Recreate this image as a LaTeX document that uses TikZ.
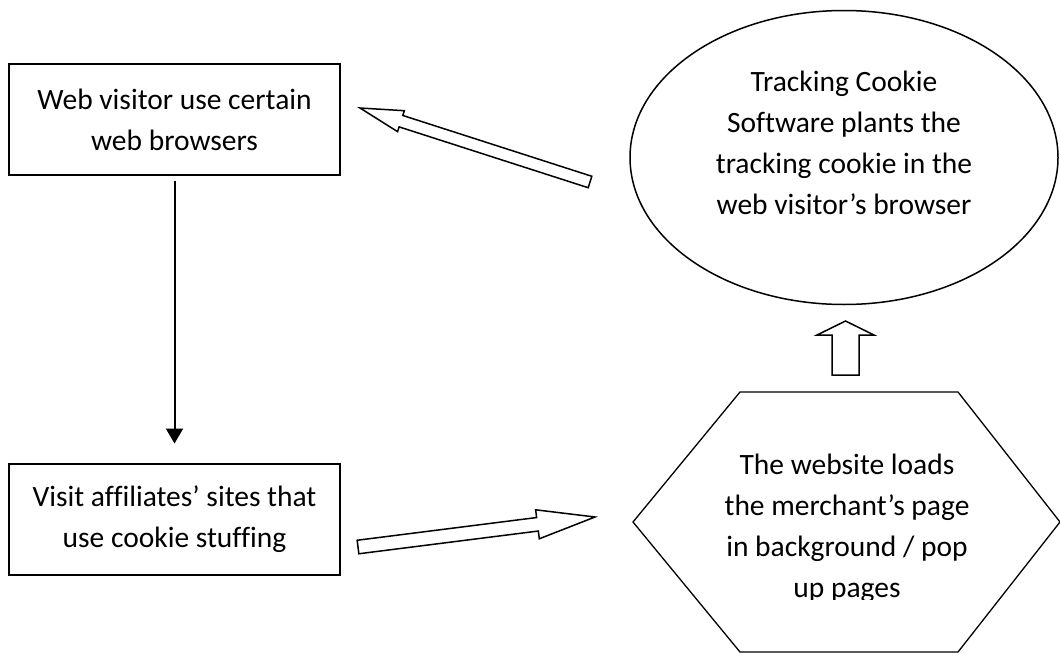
\documentclass[tikz,border=0pt]{standalone}
\usepackage{fontspec}
\setmainfont{Carlito}[Ligatures=NoCommon]
\usepackage{tikz}
\usetikzlibrary{shapes.geometric, arrows.meta, calc}

\tikzstyle{stepbox} = [rectangle, draw, line width=1pt, minimum width=165.5pt, minimum height=55.5pt,
  align=center, inner sep=0pt, font=\fontsize{14.75pt}{20.5pt}\selectfont]
\tikzstyle{cookiebox} = [ellipse, draw, line width=0.75pt, minimum width=214pt, minimum height=147pt,
  align=center, inner sep=0pt, text depth=15pt, font=\fontsize{14.75pt}{20.5pt}\selectfont]
\tikzstyle{hextext} = [align=center, inner sep=0pt, font=\fontsize{14.75pt}{20.5pt}\selectfont]
\tikzstyle{hexline} = [draw, line width=0.65pt, line join=miter]
\tikzstyle{blockline} = [draw, line width=0.75pt, line join=miter, fill=white]
\tikzstyle{arrow} = [line width=1pt, -{Triangle[width=8.5pt,length=7.5pt]}]

% hollow block arrow: tail, tip, half shaft, half head, head length
\newcommand{\blockarrow}[5]{%
  \coordinate (#1h) at ($(#2)!#5!(#1)$);
  \draw[blockline] ($(#1)!#3!90:(#2)$) -- ($(#1h)!#3!90:(#2)$) -- ($(#1h)!#4!90:(#2)$)
    -- (#2) -- ($(#1h)!#4!-90:(#2)$) -- ($(#1h)!#3!-90:(#2)$) -- ($(#1)!#3!-90:(#2)$) -- cycle;}

\begin{document}
\begin{tikzpicture}[x=0.5pt, y=-0.5pt]
  \useasboundingbox (0,0) rectangle (1060,653);

  \node (browse) [stepbox] at (174.5,119.5) {Web visitor use certain\\web browsers};
  \node (visit)  [stepbox] at (174.5,519) {Visit affiliates’ sites that\\use cookie stuffing};
  \node (cookie) [cookiebox] at (844,157.5) {Tracking Cookie\\Software plants the\\tracking cookie in the\\web visitor’s browser};

  % hexagon, last text line cut off at the bottom
  \coordinate (hex) at (847,522);
  \begin{scope}
    \clip (0,0) rectangle (1060,599);
    \node (load) [hextext] at (847,528) {The website loads\\the merchant’s page\\in background / pop\\up pages};
  \end{scope}
  \draw[hexline] ($(hex)+(-214,0)$) -- ($(hex)+(-107,-130)$) -- ($(hex)+(111,-130)$)
    -- ($(hex)+(213,0)$) -- ($(hex)+(111,130)$) -- ($(hex)+(-107,130)$) -- cycle;

  \draw[arrow, shorten <=2.25pt, shorten >=9.5pt] (browse) -- (visit);

  \coordinate (sendTail) at (358,547);
  \coordinate (sendTip)  at (595,517);
  \coordinate (upTail)   at (845.5,375);
  \coordinate (upTip)    at (845.5,321);
  \coordinate (backTail) at (590,182);
  \coordinate (backTip)  at (360,108);
  \blockarrow{sendTail}{sendTip}{3.4pt}{7.3pt}{29pt}
  \blockarrow{upTail}{upTip}{6.75pt}{14.25pt}{7pt}
  \blockarrow{backTail}{backTip}{3pt}{5.5pt}{21.5pt}
\end{tikzpicture}
\end{document}
